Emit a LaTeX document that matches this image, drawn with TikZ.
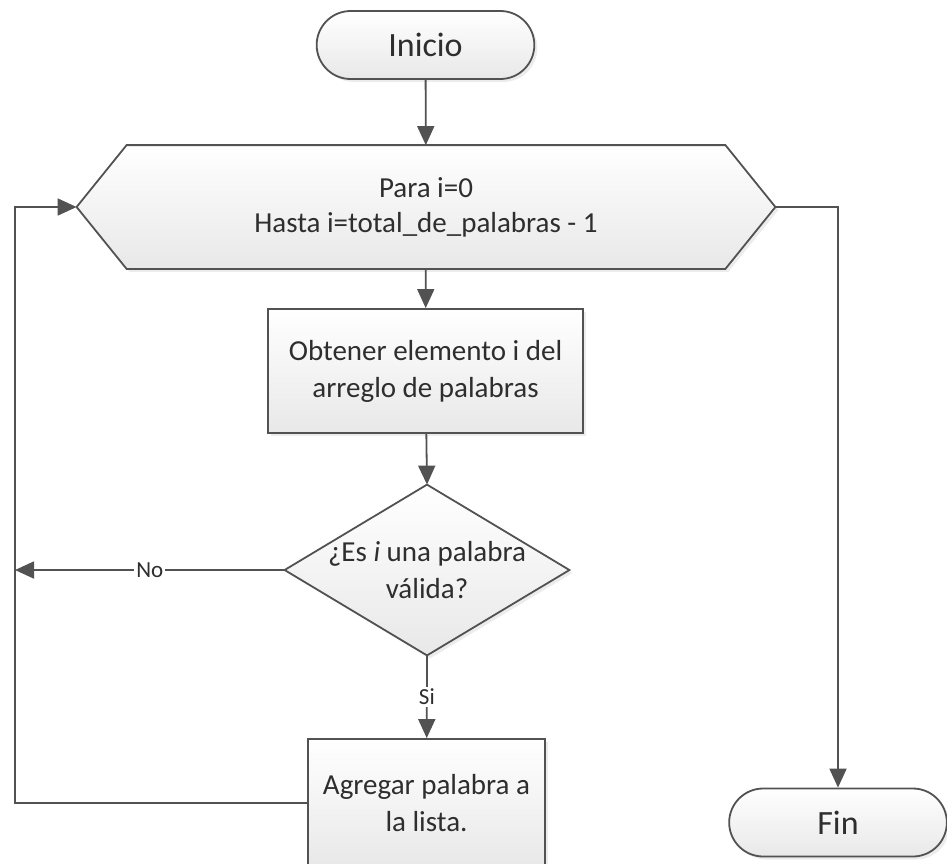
\documentclass[tikz,border=0pt]{standalone}
\usepackage{fontspec}
\setmainfont{Carlito}
\usetikzlibrary{arrows.meta,positioning,calc,backgrounds,shapes.geometric,shapes.misc,shadows}

\begin{document}
\begin{tikzpicture}[
    >={Triangle[length=9.5pt,width=8.5pt]},
    x=0.5pt, y=-0.5pt,
    base/.style={draw=black!68,line width=0.9pt,top color=white,bottom color=black!9,
                 text=black!82,drop shadow={shadow xshift=1.5pt,shadow yshift=-1.5pt,opacity=0.15}},
    term/.style={base,rounded rectangle,minimum width=115.5pt,minimum height=34pt,
                 font=\fontsize{17}{20}\selectfont},
    procbox/.style={base,rectangle,align=center,font=\fontsize{14.5}{18.5}\selectfont},
    bare/.style={align=center,text=black!82,inner sep=0pt,font=\fontsize{14.5}{18.5}\selectfont},
    flow/.style={->,draw=black!68,line width=0.9pt},
    lbl/.style={fill=white,inner sep=1pt,text=black!82,font=\fontsize{11.5}{13}\selectfont},
  ]
  \useasboundingbox (0,0) rectangle (947,863);

  % --- start ---
  \node[term] (start) at (425.5,45) {Inicio};

  % --- loop header (hexagon) ---
  \node[bare,font=\fontsize{14.5}{17.5}\selectfont,
        minimum width=349pt,minimum height=61.5pt] (loop) at (426,207)
        {Para i=0\\Hasta i=total\_de\_palabras - 1};

  % --- body ---
  \node[procbox,minimum width=157.5pt,minimum height=62pt] (get) at (425.5,371)
        {Obtener elemento i del\\arreglo de palabras};
  \node[bare,minimum width=142pt,minimum height=85pt] (check) at (427,570)
        {¿Es \textit{i} una palabra\\válida?};
  \node[procbox,minimum width=118.5pt,minimum height=64pt] (add) at (426.5,803)
        {Agregar palabra a\\la lista.};

  % --- end ---
  \node[term] (fin) at (838,822.5) {Fin};

  % --- hexagon and diamond outlines ---
  \begin{pgfonlayer}{background}
    \path[base] (loop.west) -- ($(loop.north west)+(50,0)$) -- ($(loop.north east)+(-50,0)$)
      -- (loop.east) -- ($(loop.south east)+(-50,0)$) -- ($(loop.south west)+(50,0)$) -- cycle;
    \path[base] (check.west) -- (check.north) -- (check.east) -- (check.south) -- cycle;
  \end{pgfonlayer}

  % --- connectors ---
  \coordinate (lft) at (15,207);
  \draw[flow] (start) -- (loop);
  \draw[flow] (loop) -- (get);
  \draw[flow] (get) -- (check.north);
  \draw[flow] (check.south) -- node[lbl] {Si} (add);
  \draw[flow] (check.west) -- node[lbl] {No} (check.west -| lft);
  \draw[flow] (add.west) -| (lft) -- (loop.west);
  \draw[flow] (loop.east) -| (fin.north);

\end{tikzpicture}
\end{document}
